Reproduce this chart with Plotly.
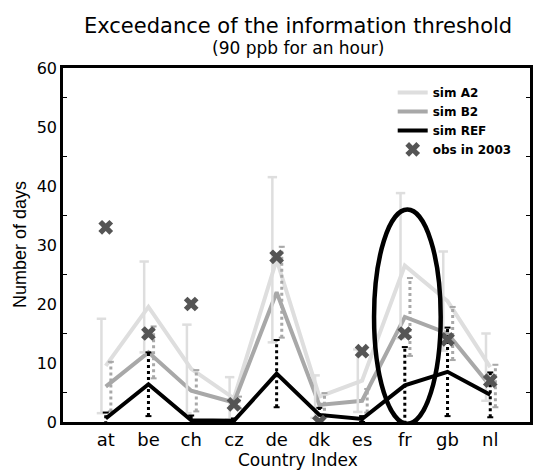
import plotly.graph_objects as go

countries = ["at", "be", "ch", "cz", "de", "dk", "es", "fr", "gb", "nl"]
sim_a2 = [9.5, 19.5, 9.0, 4.0, 27.5, 4.3, 7.0, 26.5, 20.5, 9.3]
sim_a2_err = [8.0, 7.7, 7.5, 3.6, 14.0, 3.6, 5.3, 12.3, 8.4, 5.7]
sim_b2 = [6.0, 11.8, 5.3, 3.3, 22.0, 2.9, 3.6, 17.8, 15.0, 6.1]
sim_b2_err = [4.2, 4.4, 3.5, 1.0, 7.7, 2.0, 2.0, 6.6, 4.5, 3.6]
sim_ref = [0.6, 6.4, 0.3, 0.2, 8.2, 1.2, 0.5, 6.2, 8.5, 4.6]
sim_ref_err = [1.0, 5.4, 0.8, 0.4, 5.7, 1.2, 0.5, 6.5, 7.5, 3.8]
obs_2003 = [33, 15, 20, 3, 28, 0, 12, 15, 14, 7]
y_ticks = [0, 10, 20, 30, 40, 50, 60]

FONT = "DejaVu Sans, Liberation Sans, sans-serif"
FONT_V = "Liberation Sans, Arial, sans-serif"
C_A2 = "#dedede"
C_B2 = "#a8a8a8"
C_REF = "#000000"
C_OBS = "#555555"

x = list(range(1, len(countries) + 1))


def err_segments(vals, errs, offset, capw):
    vx, vy, cx, cy = [], [], [], []
    for xi, v, e in zip(x, vals, errs):
        xc = xi + offset
        lo, hi = v - e, v + e
        vx += [xc, xc, None]
        vy += [lo, hi, None]
        for yy in (lo, hi):
            cx += [xc - capw / 2, xc + capw / 2, None]
            cy += [yy, yy, None]
    return vx, vy, cx, cy


fig = go.Figure()

fig.add_trace(go.Scatter(x=x, y=sim_a2, mode="lines", name="sim A2",
                         line=dict(color=C_A2, width=4)))
fig.add_trace(go.Scatter(x=x, y=sim_b2, mode="lines", name="sim B2",
                         line=dict(color=C_B2, width=4)))

vx, vy, cx, cy = err_segments(sim_a2, sim_a2_err, -0.1, 0.22)
fig.add_trace(go.Scatter(x=vx, y=vy, mode="lines", showlegend=False, hoverinfo="skip",
                         line=dict(color=C_A2, width=2.5)))
fig.add_trace(go.Scatter(x=cx, y=cy, mode="lines", showlegend=False, hoverinfo="skip",
                         line=dict(color=C_A2, width=2.5)))
vx, vy, cx, cy = err_segments(sim_b2, sim_b2_err, 0.12, 0.14)
fig.add_trace(go.Scatter(x=vx, y=vy, mode="lines", showlegend=False, hoverinfo="skip",
                         line=dict(color=C_B2, width=3, dash="dot")))
fig.add_trace(go.Scatter(x=cx, y=cy, mode="lines", showlegend=False, hoverinfo="skip",
                         line=dict(color=C_B2, width=2)))

fig.add_trace(go.Scatter(x=x, y=sim_ref, mode="lines", name="sim REF",
                         line=dict(color=C_REF, width=4)))

vx, vy, cx, cy = err_segments(sim_ref, sim_ref_err, 0.0, 0.14)
fig.add_trace(go.Scatter(x=vx, y=vy, mode="lines", showlegend=False, hoverinfo="skip",
                         line=dict(color=C_REF, width=3, dash="dot")))
fig.add_trace(go.Scatter(x=cx, y=cy, mode="lines", showlegend=False, hoverinfo="skip",
                         line=dict(color=C_REF, width=2)))

fig.add_trace(go.Scatter(x=x, y=obs_2003, mode="markers", name="obs in 2003",
                         marker=dict(symbol="x", size=13, color=C_OBS,
                                     line=dict(width=0))))

fig.add_shape(type="circle", xref="x", yref="y", x0=7.28, x1=8.84, y0=-0.3, y1=36,
              line=dict(color="black", width=4.5), layer="above")

fig.add_annotation(text="Exceedance of the information threshold", xref="paper", yref="paper",
                   x=0.504, y=1.118, xanchor="center", yanchor="middle", showarrow=False,
                   font=dict(size=21, color="black", family=FONT))
fig.add_annotation(text="(90 ppb for an hour)", xref="paper", yref="paper",
                   x=0.504, y=1.057, xanchor="center", yanchor="middle", showarrow=False,
                   font=dict(size=17, color="black", family=FONT))
fig.add_annotation(text="Country Index", xref="paper", yref="paper",
                   x=0.504, y=-0.107, xanchor="center", yanchor="middle", showarrow=False,
                   font=dict(size=17, color="black", family=FONT))
fig.add_annotation(text="Number of days", xref="paper", yref="paper",
                   x=-0.092, y=0.5, xanchor="center", yanchor="middle", showarrow=False,
                   textangle=-90, font=dict(size=18, color="black", family=FONT_V))

fig.update_layout(
    width=535, height=471,
    margin=dict(l=63, r=2, t=68, b=49),
    paper_bgcolor="white", plot_bgcolor="white",
    font=dict(family=FONT, color="black"),
    showlegend=True,
    legend=dict(x=0.706, y=0.972, xanchor="left", yanchor="top",
                bgcolor="rgba(0,0,0,0)", borderwidth=0,
                font=dict(size=12, family="DejaVu Sans", color="black", weight="bold"),
                itemwidth=30, tracegroupgap=0),
    xaxis=dict(range=[0, 10.93], tickmode="array", tickvals=x, ticktext=countries,
               showgrid=False, zeroline=False, showline=True, linecolor="black",
               linewidth=2.5, mirror=True, ticks="", tickfont=dict(size=18, family=FONT)),
    yaxis=dict(range=[0, 60], tickmode="array", tickvals=y_ticks,
               showgrid=False, zeroline=False, showline=True, linecolor="black",
               linewidth=2.5, mirror="ticks", ticks="", tickfont=dict(size=16, family=FONT),
               minor=dict(tickvals=[5, 15, 25, 35, 45, 55], ticks="inside", ticklen=4,
                          tickwidth=1, tickcolor="black", showgrid=False)),
)

fig.write_html("out.html")
